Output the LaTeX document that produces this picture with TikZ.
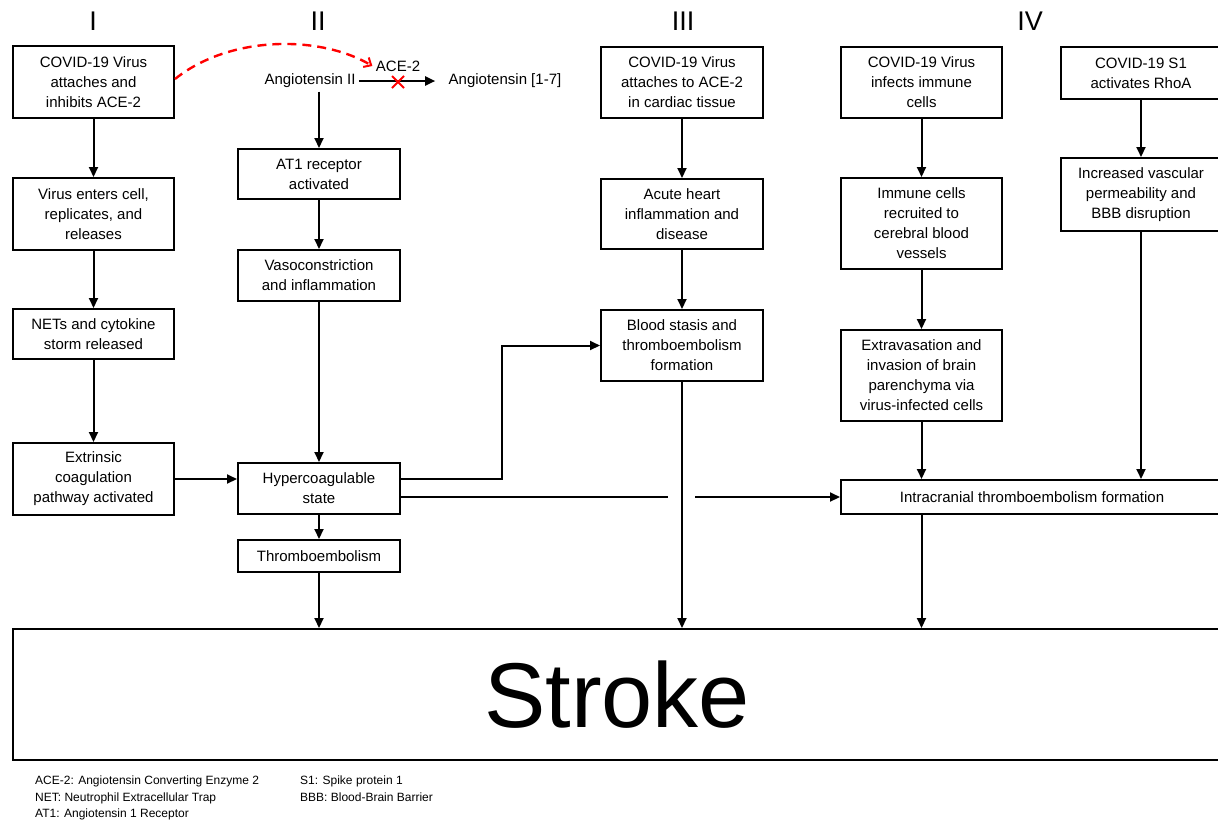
\documentclass[tikz,border=0pt]{standalone}
\usepackage{fontspec}
\setmainfont{Liberation Sans}
\usetikzlibrary{arrows,arrows.meta,shapes.misc}

\begin{document}
\begin{tikzpicture}[x=1pt,y=-1pt,
    box/.style={draw,line width=2pt,align=center,inner sep=2pt,
      anchor=north west,font=\fontsize{15}{20}\selectfont},
    txt/.style={font=\fontsize{15}{20}\selectfont},
    num/.style={font=\fontsize{27}{27}\selectfont},
    legend/.style={anchor=north west,align=left,inner sep=0pt,
      font=\fontsize{12}{16.5}\selectfont},
    flow/.style={line width=2pt,-{Triangle[length=10pt,width=9pt]}},
    plain/.style={line width=2pt}]
  \useasboundingbox[fill=white] (0,0) rectangle (1218,820);

  % column numbers
  \node[num] (nI) at (93,21) {I};
  \node[num] (nII) at (318,21) {II};
  \node[num] (nIII) at (683,21) {III};
  \node[num] (nIV) at (1030,21) {IV};

  % column I
  \node[box,minimum width=161,minimum height=72] (covA) at (12,45)
    {COVID-19 Virus\\attaches and\\inhibits ACE-2};
  \node[box,minimum width=161,minimum height=72] (enters) at (12,177)
    {Virus enters cell,\\replicates, and\\releases};
  \node[box,minimum width=161,minimum height=50] (nets) at (12,308)
    {NETs and cytokine\\storm released};
  \node[box,minimum width=161,minimum height=72] (extr) at (12,442)
    {Extrinsic\\coagulation\\pathway activated};

  % column II
  \node[txt] (angII) at (310,81) {Angiotensin II};
  \node[txt] (ang17) at (505,81) {Angiotensin [1-7]};
  \node[txt] (ace) at (398,66) {ACE-2};
  \node[box,minimum width=162,minimum height=50] (at1) at (237,148)
    {AT1 receptor\\activated};
  \node[box,minimum width=162,minimum height=51] (vaso) at (237,249)
    {Vasoconstriction\\and inflammation};
  \node[box,minimum width=162,minimum height=51] (hyper) at (237,462)
    {Hypercoagulable\\state};
  \node[box,minimum width=162,minimum height=32] (thromb) at (237,539)
    {Thromboembolism};

  % column III
  \node[box,minimum width=162,minimum height=71] (covC) at (600,46)
    {COVID-19 Virus\\attaches to ACE-2\\in cardiac tissue};
  \node[box,minimum width=162,minimum height=70] (heart) at (600,178)
    {Acute heart\\inflammation and\\disease};
  \node[box,minimum width=162,minimum height=71] (stasis) at (600,309)
    {Blood stasis and\\thromboembolism\\formation};

  % column IV
  \node[box,minimum width=161,minimum height=71] (covD) at (840,46)
    {COVID-19 Virus\\infects immune\\cells};
  \node[box,minimum width=161,minimum height=91] (immune) at (840,177)
    {Immune cells\\recruited to\\cerebral blood\\vessels};
  \node[box,minimum width=161,minimum height=91] (extrav) at (840,329)
    {Extravasation and\\invasion of brain\\parenchyma via\\virus-infected cells};
  \node[box,minimum width=160,minimum height=52] (rhoa) at (1060,46)
    {COVID-19 S1\\activates RhoA};
  \node[box,minimum width=160,minimum height=73] (perm) at (1060,157)
    {Increased vascular\\permeability and\\BBB disruption};
  \node[box,minimum width=382,minimum height=34] (intra) at (840,479)
    {Intracranial thromboembolism formation};

  \node[box,minimum width=1208,minimum height=131,
    font=\fontsize{92}{92}\selectfont] (stroke) at (12,628) {Stroke};

  % legend
  \node[legend] (abbrA) at (35,776)
    {ACE-2: Angiotensin Converting Enzyme 2\\NET: Neutrophil Extracellular Trap\\AT1: Angiotensin 1 Receptor};
  \node[legend] (abbrB) at (300,776)
    {S1: Spike protein 1\\BBB: Blood-Brain Barrier};

  % ACE-2 pathway
  \draw[red,line width=2.4pt,dash pattern=on 9pt off 6pt,
    -{Straight Barb[length=6pt,width=11pt,line width=2pt]}]
    ([yshift=3pt]covA.east) .. controls (230,35) and (320,35) .. (ace.west);
  \draw[flow,shorten >=10pt] (angII.east) -- (ang17.west);
  \node[cross out,draw=red,line width=2pt,minimum size=10pt,inner sep=0pt]
    (block) at (398,82) {};

  % connectors
  \draw[flow] (covA) -- (enters);
  \draw[flow] (enters) -- (nets);
  \draw[flow] (nets) -- (extr);
  \draw[flow] (extr.east) -- (extr.east -| hyper.west);

  \draw[flow] (angII.south -| at1.north) -- (at1.north);
  \draw[flow] (at1) -- (vaso);
  \draw[flow] (vaso) -- (hyper);
  \draw[flow] (hyper) -- (thromb);
  \draw[flow] (thromb.south) -- (thromb.south |- stroke.north);
  \draw[flow] ([yshift=10pt]hyper.east) -- ++(101,0) |- (stasis.west);

  \coordinate (gapL) at ([xshift=-14pt]stasis.south |- intra.west);
  \coordinate (gapR) at ([xshift=13pt]stasis.south |- intra.west);
  \draw[plain] (hyper.east |- intra.west) -- (gapL);
  \draw[flow] (gapR) -- (intra.west);

  \draw[flow] (covC) -- (heart);
  \draw[flow] (heart) -- (stasis);
  \draw[flow] (stasis.south) -- (stasis.south |- stroke.north);

  \draw[flow] (covD) -- (immune);
  \draw[flow] (immune) -- (extrav);
  \draw[flow] (extrav.south) -- (extrav.south |- intra.north);
  \draw[flow] (intra.south -| extrav.south) -- (extrav.south |- stroke.north);

  \draw[flow] (rhoa) -- (perm);
  \draw[flow] (perm.south) -- (perm.south |- intra.north);
\end{tikzpicture}
\end{document}
